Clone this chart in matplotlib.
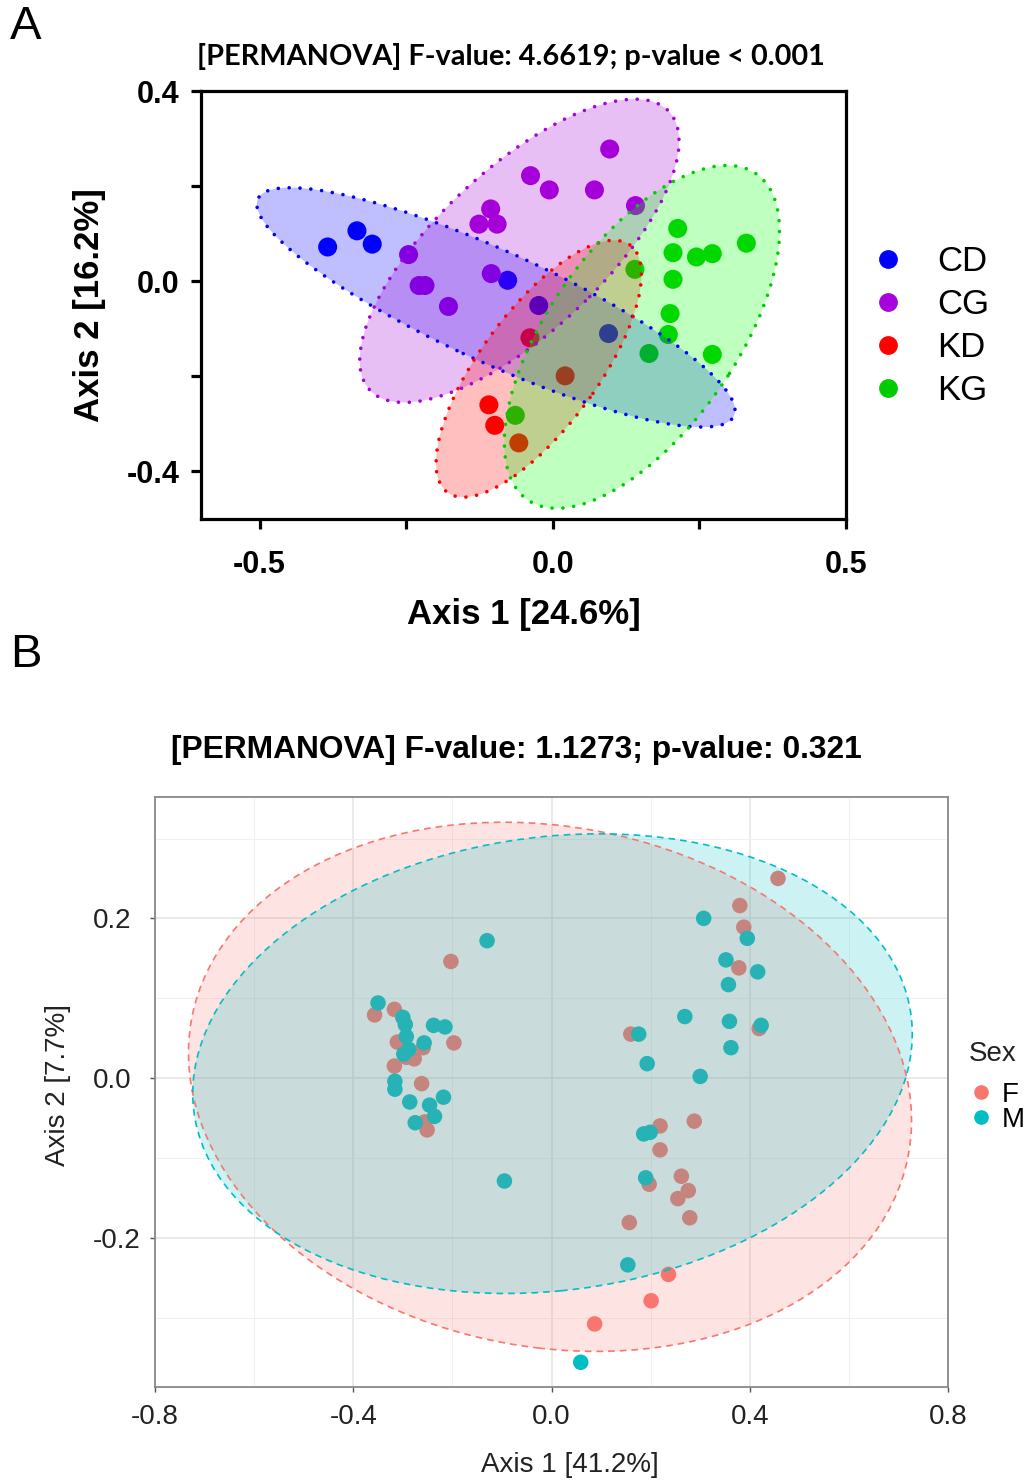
import matplotlib
matplotlib.use("Agg")
import matplotlib.pyplot as plt
from matplotlib.patches import Ellipse
from matplotlib.lines import Line2D

# ---- Panel A data (PCoA, diet/genotype groups) ----
groups_a = ["CD", "CG", "KD", "KG"]
colors_a = ["#0000FF", "#A600DC", "#FF0000", "#00CC00"]
fills_a = ["#0000FF", "#A300D7", "#FF0000", "#00FF00"]

cd_x = [-0.384, -0.334, -0.308, -0.077, -0.024, 0.095]
cd_y = [0.072, 0.106, 0.078, 0.002, -0.051, -0.110]

cg_x = [0.097, -0.038, -0.006, 0.071, -0.106, -0.126, -0.095, 0.141, -0.246, -0.105, -0.228, -0.218, -0.178]
cg_y = [0.278, 0.222, 0.192, 0.192, 0.152, 0.120, 0.120, 0.159, 0.056, 0.016, -0.009, -0.009, -0.053]

kd_x = [-0.039, 0.021, -0.109, -0.099, -0.058]
kd_y = [-0.119, -0.199, -0.260, -0.303, -0.340]

kg_x = [0.213, 0.205, 0.245, 0.272, 0.330, 0.140, 0.205, 0.200, 0.197, 0.272, 0.164, -0.064]
kg_y = [0.111, 0.060, 0.051, 0.058, 0.080, 0.025, 0.004, -0.068, -0.112, -0.154, -0.152, -0.282]

# ellipse: center x, center y, semi-major, semi-minor, angle (deg)
ell_a = {
    "CD": (-0.097, -0.055, 0.466, 0.112, -29.9),
    "CG": (-0.057, 0.064, 0.390, 0.154, 51.2),
    "KD": (-0.024, -0.184, 0.304, 0.106, 60.7),
    "KG": (0.152, -0.117, 0.396, 0.168, 62.8),
}

# ---- Panel B data (Sex) ----
sex_groups = ["F", "M"]
sex_colors = ["#F8766D", "#00BFC4"]

f_x = [0.457, 0.380, 0.388, 0.378, 0.419, 0.160, -0.203, -0.197, -0.357, -0.317, -0.311, -0.259, -0.277,
       -0.293, -0.317, -0.262, -0.256, -0.251, 0.219, 0.288, 0.219, 0.262, 0.197, 0.276, 0.255, 0.279,
       0.157, 0.236, 0.201, 0.087]
f_y = [0.250, 0.216, 0.189, 0.138, 0.062, 0.055, 0.146, 0.044, 0.079, 0.086, 0.045, 0.038, 0.024,
       0.026, 0.015, -0.007, -0.055, -0.065, -0.060, -0.054, -0.090, -0.123, -0.133, -0.141, -0.151, -0.175,
       -0.181, -0.246, -0.279, -0.308]

m_x = [-0.130, 0.307, 0.395, 0.352, 0.416, 0.357, 0.269, 0.359, 0.423, 0.176, 0.362, 0.193, 0.300,
       -0.350, -0.300, -0.295, -0.293, -0.238, -0.215, -0.257, -0.288, -0.298, -0.316, -0.316, -0.286,
       -0.246, -0.218, -0.236, -0.275, 0.186, 0.199, 0.190, -0.095, 0.154, 0.059]
m_y = [0.172, 0.200, 0.175, 0.148, 0.133, 0.117, 0.077, 0.071, 0.066, 0.055, 0.038, 0.018, 0.002,
       0.094, 0.076, 0.067, 0.052, 0.066, 0.064, 0.044, 0.036, 0.030, -0.004, -0.014, -0.030,
       -0.034, -0.024, -0.048, -0.056, -0.070, -0.068, -0.125, -0.129, -0.234, -0.356]

ell_b = {
    "F": (-0.003, -0.011, 0.731, 0.328, -4.15),
    "M": (0.002, 0.018, 0.727, 0.285, 3.47),
}

plt.rcParams['font.family'] = ['Liberation Sans', 'DejaVu Sans']

W, H = 1028, 1483
fig = plt.figure(figsize=(W / 100, H / 100), dpi=100)


def box(x0, y0, x1, y1):
    return [x0 / W, 1 - y1 / H, (x1 - x0) / W, (y1 - y0) / H]


# ================= Panel A =================
axA = fig.add_axes(box(201, 91, 846, 519))
pts_a = {"CD": (cd_x, cd_y), "CG": (cg_x, cg_y), "KD": (kd_x, kd_y), "KG": (kg_x, kg_y)}
for g, c in zip(groups_a, colors_a):
    xs, ys = pts_a[g]
    axA.scatter(xs, ys, s=188, color=c, edgecolors='none', zorder=2)

for g, c, fc in zip(groups_a, colors_a, fills_a):
    cx, cy, a, b, ang = ell_a[g]
    e = Ellipse((cx, cy), 2 * a, 2 * b, angle=ang, facecolor=fc, alpha=0.25,
                edgecolor='none', zorder=3)
    axA.add_patch(e)
    e2 = Ellipse((cx, cy), 2 * a, 2 * b, angle=ang, facecolor='none', edgecolor=c,
                 linewidth=2.6, linestyle=(0, (0.01, 3.0)), zorder=4)
    e2.set_capstyle('round')
    axA.add_patch(e2)

axA.set_xlim(-0.6, 0.5)
axA.set_ylim(-0.5, 0.4)
for s in axA.spines.values():
    s.set_linewidth(2.3)
axA.set_xticks([-0.5, -0.25, 0, 0.25, 0.5])
axA.set_xticklabels(['-0.5', '', '0.0', '', '0.5'])
axA.set_yticks([-0.4, -0.2, 0, 0.2, 0.4])
axA.set_yticklabels(['-0.4', '', '0.0', '', '0.4'])
axA.tick_params(direction='out', length=7.5, width=2.3, labelsize=22)
axA.tick_params(axis='x', pad=15)
axA.tick_params(axis='y', pad=8)
for lab in axA.get_xticklabels() + axA.get_yticklabels():
    lab.set_fontweight('bold')

fig.text(511 / W, 1 - 56 / H, "[PERMANOVA] F-value: 4.6619; p-value < 0.001",
         ha='center', va='center', fontsize=20.8, fontweight='bold', family=['Lato', 'DejaVu Sans'])
fig.text(524 / W, 1 - 614 / H, "Axis 1 [24.6%]", ha='center', va='center',
         fontsize=25, fontweight='bold')
fig.text(90 / W, 1 - 305 / H, "Axis 2 [16.2%]", ha='center', va='center',
         rotation=90, fontsize=25, fontweight='bold')
fig.text(10 / W, 1 - 27 / H, "A", ha='left', va='center', fontsize=34)
fig.text(10 / W, 1 - 655 / H, "B", ha='left', va='center', fontsize=34)

hA = [Line2D([], [], marker='o', ls='', color=c, markersize=12.5) for c in colors_a]
fig.legend(hA, groups_a, loc='upper left', bbox_to_anchor=(873 / W, 1 - 245 / H),
           frameon=False, fontsize=25, handlelength=0.85, handletextpad=1.0,
           labelspacing=0.29, borderpad=0, borderaxespad=0)

# ================= Panel B =================
axB = fig.add_axes(box(155, 797, 948, 1387))
axB.set_xlim(-0.8, 0.8)
axB.set_ylim(-0.387, 0.352)
axB.set_xticks([-0.8, -0.4, 0, 0.4, 0.8])
axB.set_xticklabels(['-0.8', '-0.4', '0.0', '0.4', '0.8'])
axB.set_xticks([-0.6, -0.2, 0.2, 0.6], minor=True)
axB.set_yticks([-0.2, 0, 0.2])
axB.set_yticklabels(['-0.2', '0.0', '0.2'])
axB.set_yticks([-0.3, -0.1, 0.1, 0.3], minor=True)
axB.grid(True, which='major', color='#e4e4e4', linewidth=1.1, zorder=0)
axB.grid(True, which='minor', color='#f0f0f0', linewidth=0.7, zorder=0)
axB.set_axisbelow(True)
for s in axB.spines.values():
    s.set_color('#888888')
    s.set_linewidth(1.3)
axB.tick_params(which='major', direction='out', length=3.5, width=1, color='#555555',
                labelsize=20, labelcolor='#222222')
axB.tick_params(which='minor', length=0)
axB.tick_params(axis='x', pad=9)
axB.tick_params(axis='y', pad=41)
for lab in axB.get_yticklabels():
    lab.set_ha('left')

pts_b = {"F": (f_x, f_y), "M": (m_x, m_y)}
for g, c in zip(sex_groups, sex_colors):
    xs, ys = pts_b[g]
    axB.scatter(xs, ys, s=125, color=c, edgecolors='none', zorder=2)
for g, c in zip(sex_groups, sex_colors):
    cx, cy, a, b, ang = ell_b[g]
    axB.add_patch(Ellipse((cx, cy), 2 * a, 2 * b, angle=ang, facecolor=c, alpha=0.2,
                          edgecolor='none', zorder=3))
    axB.add_patch(Ellipse((cx, cy), 2 * a, 2 * b, angle=ang, facecolor='none', edgecolor=c,
                          linewidth=1.2, linestyle=(0, (4, 3)), zorder=4))

fig.text(516 / W, 1 - 750 / H, "[PERMANOVA] F-value: 1.1273; p-value: 0.321",
         ha='center', va='center', fontsize=22.9, fontweight='bold')
fig.text(570 / W, 1 - 1465 / H, "Axis 1 [41.2%]", ha='center', va='center',
         fontsize=20, color='#222222')
fig.text(58 / W, 1 - 1085 / H, "Axis 2 [7.7%]", ha='center', va='center',
         rotation=90, fontsize=20, color='#222222')

# legend for panel B: title as separate text, tight rows like ggplot
fig.text(969 / W, 1 - 1054 / H, "Sex", ha='left', va='center', fontsize=20, color='#222222')
hB = [Line2D([], [], marker='o', ls='', color=c, markersize=9.5) for c in sex_colors]
fig.legend(hB, sex_groups, loc='upper left', bbox_to_anchor=(973 / W, 1 - 1082 / H),
           frameon=False, fontsize=20, handlelength=0.6, handletextpad=0.45,
           labelspacing=-0.05, borderpad=0, borderaxespad=0)

fig.savefig("out.png", dpi=100)
